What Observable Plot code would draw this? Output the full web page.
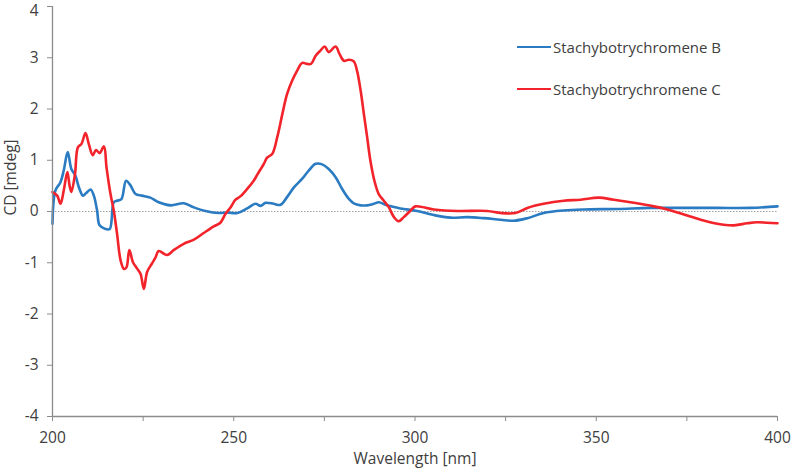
<!DOCTYPE html>
<html>
<head>
<meta charset="utf-8">
<script src="https://cdn.jsdelivr.net/npm/d3@7"></script>
<script src="https://cdn.jsdelivr.net/npm/@observablehq/plot@0.6"></script>
<style>
  html, body { margin: 0; padding: 0; background: #fff; }
  #wrap { position: relative; width: 792px; height: 469px; font-family: "Open Sans", sans-serif; color: #404040; }
  .leg { position: absolute; left: 517px; font-size: 15px; display: flex; align-items: center; white-space: nowrap; }
  .leg span.sw { display: inline-block; width: 34px; height: 0; border-top: 2.5px solid; margin-right: 2px; }
</style>
</head>
<body>
<div id="wrap"></div>
<script>
const seriesNames = ["Stachybotrychromene B", "Stachybotrychromene C"];
const seriesColors = ["#2a7bc1", "#f2232a"];

const bNm = [200,200.8,202.2,203.1,204.2,205.2,206.3,207.3,208.4,209.3,210.5,211.4,212.3,213.0,214.6,215.8,216.9,217.8,219.0,220.3,221.5,222.9,224.7,227,229.3,232.6,236.2,239.0,242.2,245.9,248.2,251,253.7,256,257.4,258.8,261,262.9,264.7,266.6,268.9,270.7,272.6,274.4,276.2,278.1,279.9,281.7,283.1,285,286.8,288.6,290,292.3,296,300.6,305.2,309.8,314.4,319,323.6,327.3,331,335.5,341,346.6,355.8,365,374.2,383.4,392.6,400];
const bCd = [-0.24,0.41,0.57,0.80,1.16,0.83,0.70,0.47,0.31,0.36,0.43,0.31,0.02,-0.27,-0.34,-0.34,0.18,0.21,0.24,0.60,0.51,0.34,0.31,0.27,0.18,0.12,0.16,0.08,0.01,-0.03,-0.02,-0.03,0.06,0.15,0.11,0.17,0.15,0.13,0.28,0.47,0.64,0.80,0.93,0.92,0.83,0.67,0.44,0.25,0.16,0.12,0.12,0.15,0.18,0.12,0.06,0.01,-0.07,-0.12,-0.11,-0.13,-0.16,-0.18,-0.13,-0.03,0.02,0.04,0.05,0.07,0.07,0.07,0.07,0.10];

const cNm = [200,201.3,202.2,203.1,204.1,204.7,205.2,206.2,207.0,208.0,209.1,210.0,211.1,212.0,213.0,214.2,214.9,216.0,216.9,217.8,218.8,219.7,220.4,221.2,222.2,223.4,224.3,225.2,226.1,227.4,228.4,229.3,231.6,233.5,236.2,239.0,241.7,244.5,246.3,247.7,249.1,250.5,251.9,253.7,255.5,256.5,258.3,259.2,260.6,262,263.4,264.7,266.1,267.5,268.9,270.2,271.3,272.6,273.9,275.1,276.2,278.1,279.2,280.4,281.7,283.1,284.0,285,285.9,286.8,287.7,288.8,290,291.4,292.8,294.2,295.5,296.9,298.8,300.1,305.2,311.6,319.9,323.6,327.7,331,335.5,341,345.7,350.7,354.8,360.4,365.9,369.6,374.2,378.8,383.4,388,391.6,394.4,397.2,400];
const cCd = [0.38,0.31,0.15,0.41,0.77,0.51,0.38,0.73,1.25,1.32,1.53,1.32,1.10,1.20,1.14,1.27,0.86,0.34,0.02,-0.43,-0.96,-1.12,-1.09,-0.75,-0.99,-1.12,-1.22,-1.51,-1.18,-1.02,-0.90,-0.77,-0.85,-0.75,-0.63,-0.55,-0.42,-0.29,-0.22,-0.05,0.08,0.23,0.30,0.44,0.60,0.72,0.93,1.05,1.12,1.45,1.90,2.29,2.55,2.75,2.90,2.88,2.88,3.04,3.14,3.22,3.11,3.22,3.07,2.94,2.96,2.93,2.75,2.36,1.90,1.45,0.99,0.60,0.34,0.21,0.08,-0.11,-0.19,-0.11,0.02,0.10,0.04,0.01,0.01,-0.03,-0.03,0.07,0.15,0.21,0.23,0.27,0.23,0.17,0.10,0.04,-0.06,-0.16,-0.24,-0.27,-0.23,-0.21,-0.22,-0.23];

const xTicks = [200,225,250,275,300,325,350,375,400];
const yTicks = [-4,-3,-2,-1,0,1,2,3,4];
const xLabel = "Wavelength [nm]";
const yLabel = "CD [mdeg]";

const seriesB = bNm.map((x, i) => ({x, y: bCd[i]}));
const seriesC = cNm.map((x, i) => ({x, y: cCd[i]}));

const axisColor = "#8c8c8c";
const textColor = "#404040";
const yTop = yTicks[yTicks.length - 1];

const chart = Plot.plot({
  width: 792,
  height: 469,
  marginLeft: 52,
  marginRight: 15,
  marginTop: 6,
  marginBottom: 53,
  style: {fontFamily: "'Open Sans', sans-serif", fontSize: "15.5px", color: textColor, background: "#fff"},
  x: {domain: [200, 400]},
  y: {domain: [-4, 4]},
  marks: [
    Plot.ruleY([0], {stroke: "#a0a0a0", strokeWidth: 1, strokeDasharray: "1.5,1.5"}),
    Plot.line(seriesB, {x: "x", y: "y", stroke: seriesColors[0], strokeWidth: 2.6, curve: "catmull-rom"}),
    Plot.line(seriesC, {x: "x", y: "y", stroke: seriesColors[1], strokeWidth: 2.6, curve: "catmull-rom"}),
    Plot.ruleX([200], {stroke: axisColor, strokeWidth: 1.3}),
    Plot.ruleY([-4], {stroke: axisColor, strokeWidth: 1.3}),
    Plot.axisX({ticks: xTicks, tickSize: 5, tickPadding: 10, stroke: axisColor, fill: textColor,
      tickFormat: d => d % 50 === 0 ? String(d) : "", label: null}),
    Plot.axisY({ticks: yTicks, tickSize: 5, tickPadding: 9, stroke: axisColor, text: null, label: null}),
    Plot.axisY({ticks: yTicks.filter(d => d !== yTop), tickSize: 0, tickPadding: 14, fill: textColor,
      tickFormat: d => String(d), label: null}),
    Plot.axisY({ticks: [yTop], tickSize: 0, tickPadding: 14, fill: textColor, dy: 5,
      tickFormat: d => String(d), label: null}),
    Plot.text([xLabel], {frameAnchor: "bottom", dy: 47, fill: textColor, fontSize: 15.5}),
    Plot.text([yLabel], {frameAnchor: "left", dx: -41, dy: 4, rotate: -90, fill: textColor, fontSize: 15.5})
  ]
});

const wrap = document.getElementById("wrap");
wrap.appendChild(chart);
const tops = [37, 79];
seriesNames.forEach((name, i) => {
  const d = document.createElement("div");
  d.className = "leg";
  d.style.top = tops[i] + "px";
  const sw = document.createElement("span");
  sw.className = "sw";
  sw.style.borderTopColor = seriesColors[i];
  d.appendChild(sw);
  d.appendChild(document.createTextNode(name));
  wrap.appendChild(d);
});
</script>
</body>
</html>
